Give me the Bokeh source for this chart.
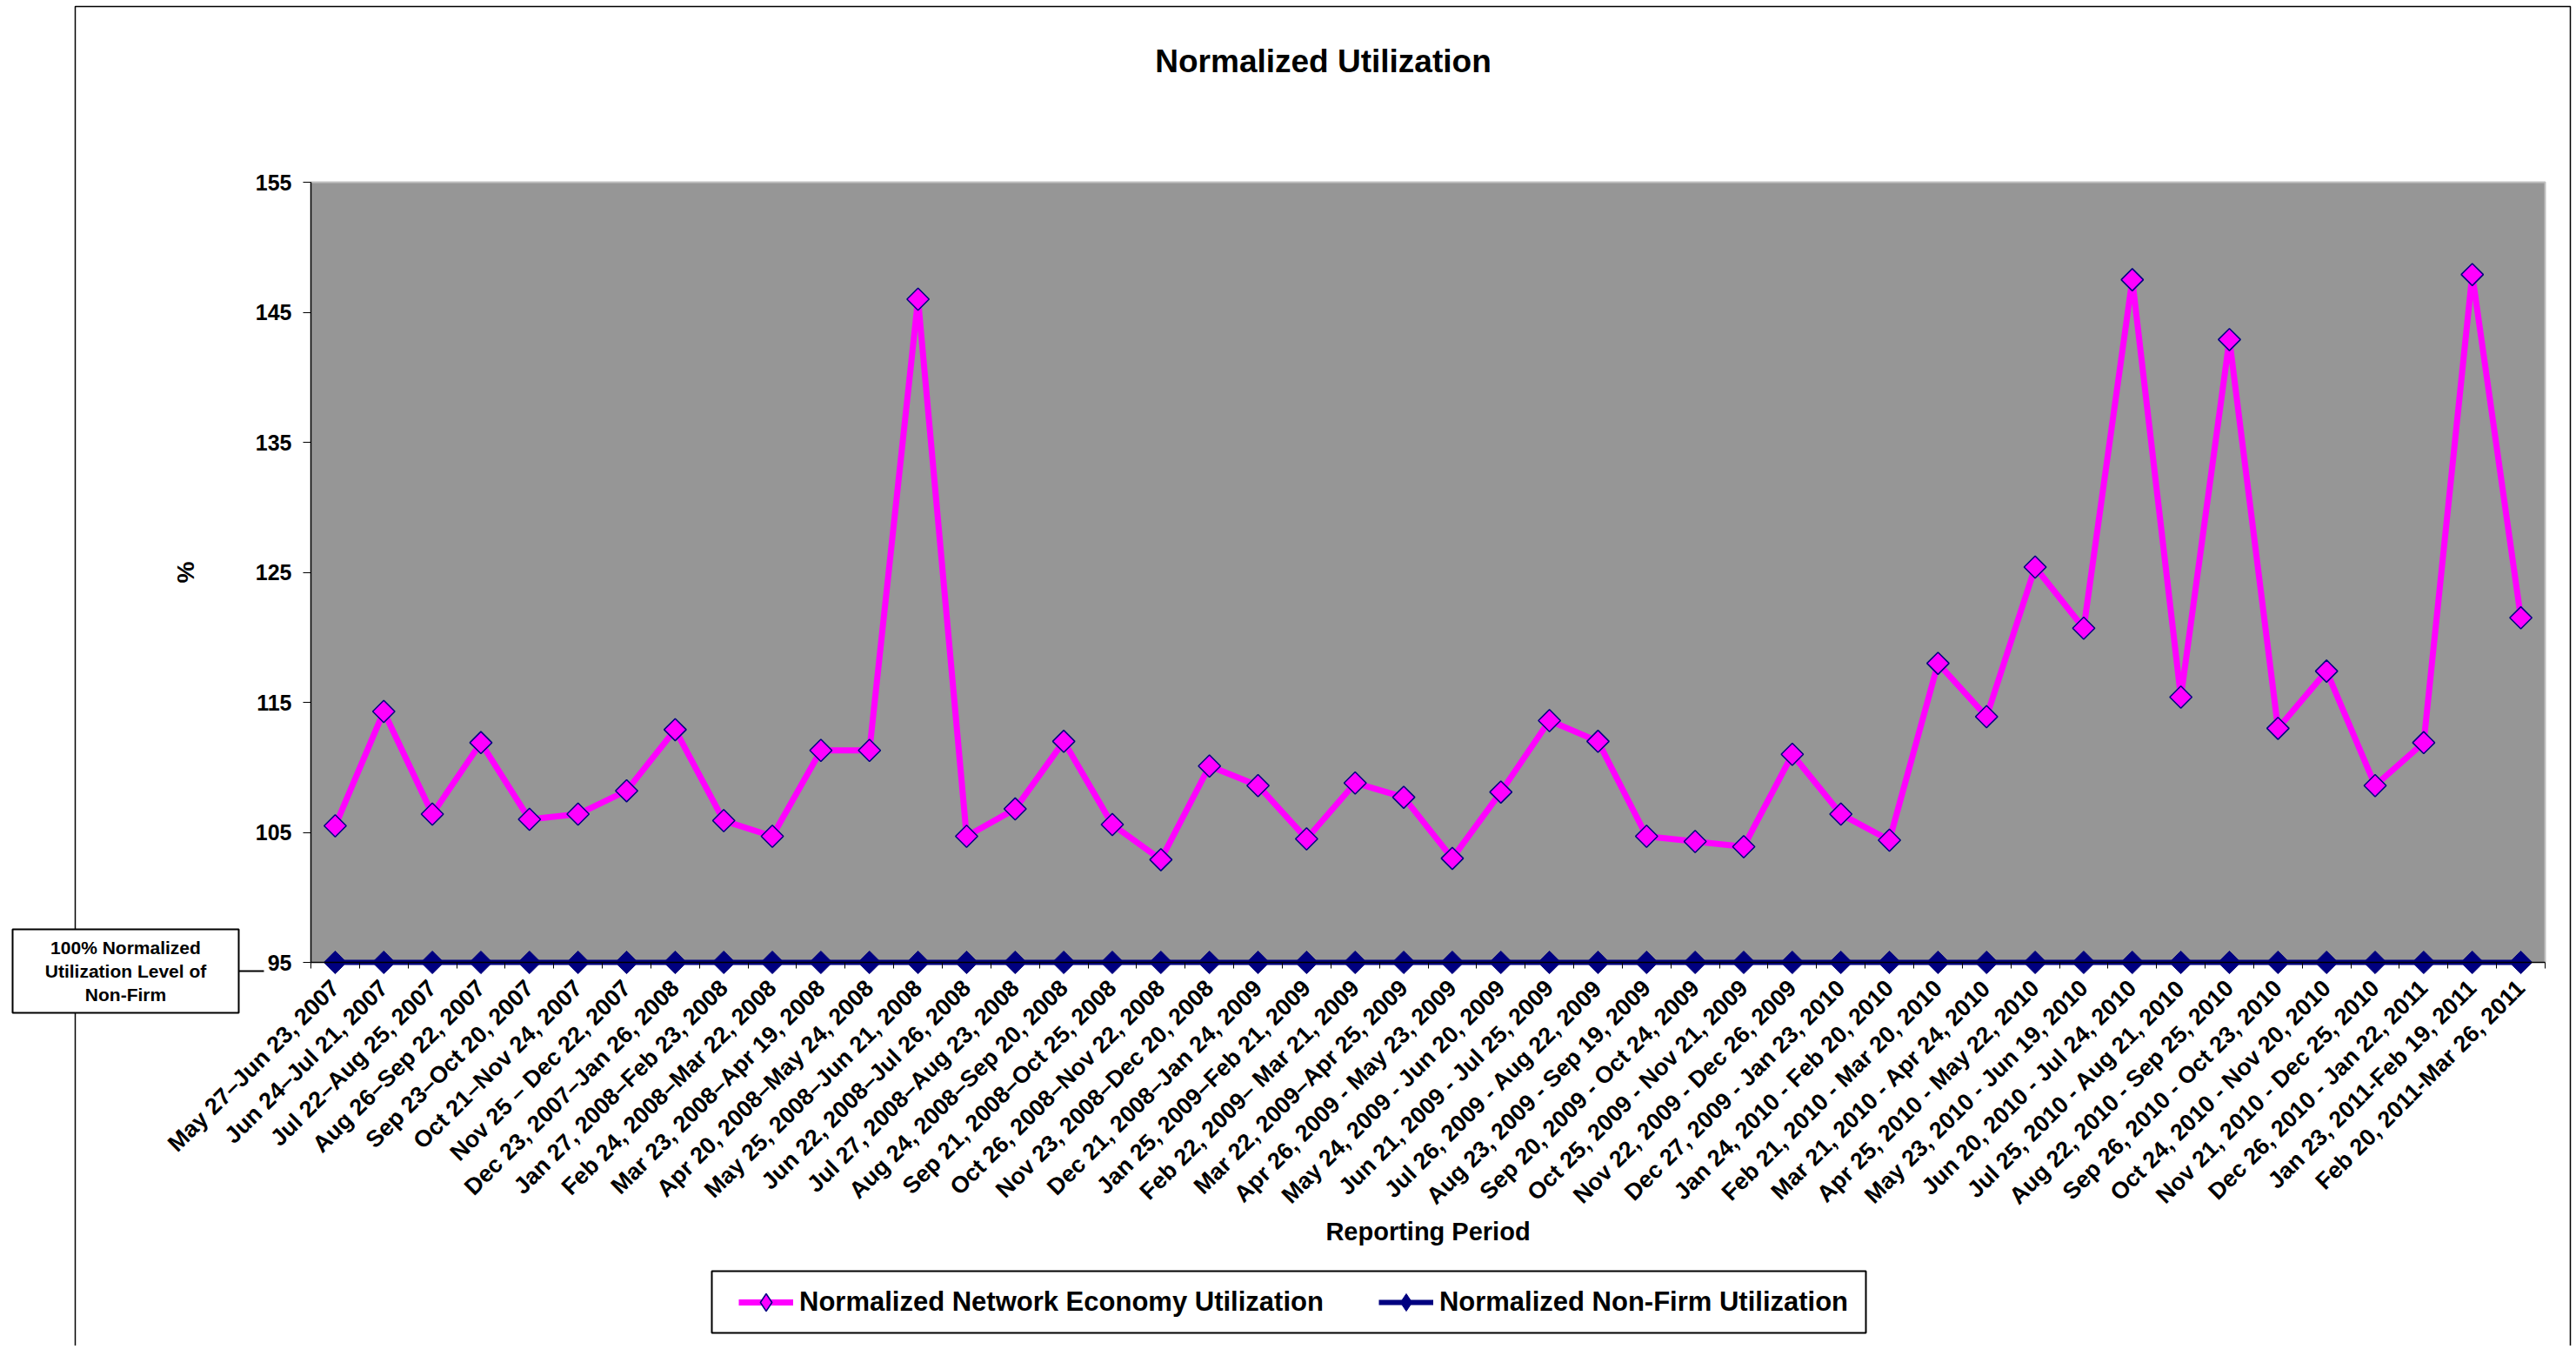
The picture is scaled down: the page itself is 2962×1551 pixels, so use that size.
import math
from bokeh.plotting import figure
from bokeh.models import (Range1d, FixedTicker, ColumnDataSource, Legend, LegendItem)
from bokeh.core.properties import value
from bokeh.embed import file_html
from bokeh.resources import INLINE

# ---------------- data ----------------
categories = [
    "May 27\u2013Jun 23, 2007", "Jun 24\u2013Jul 21, 2007", "Jul 22\u2013Aug 25, 2007",
    "Aug 26\u2013Sep 22, 2007", "Sep 23\u2013Oct 20, 2007", "Oct 21\u2013Nov 24, 2007",
    "Nov 25 \u2013 Dec 22, 2007", "Dec 23, 2007\u2013Jan 26, 2008", "Jan 27, 2008\u2013Feb 23, 2008",
    "Feb 24, 2008\u2013Mar 22, 2008", "Mar 23, 2008\u2013Apr 19, 2008", "Apr 20, 2008\u2013May 24, 2008",
    "May 25, 2008\u2013Jun 21, 2008", "Jun 22, 2008\u2013Jul 26, 2008", "Jul 27, 2008\u2013Aug 23, 2008",
    "Aug 24, 2008\u2013Sep 20, 2008", "Sep 21, 2008\u2013Oct 25, 2008", "Oct 26, 2008\u2013Nov 22, 2008",
    "Nov 23, 2008\u2013Dec 20, 2008", "Dec 21, 2008\u2013Jan 24, 2009", "Jan 25, 2009\u2013Feb 21, 2009",
    "Feb 22, 2009\u2013 Mar 21, 2009", "Mar 22, 2009\u2013Apr 25, 2009", "Apr 26, 2009 - May 23, 2009",
    "May 24, 2009 - Jun 20, 2009", "Jun 21, 2009 - Jul 25, 2009", "Jul 26, 2009 - Aug 22, 2009",
    "Aug 23, 2009 - Sep 19, 2009", "Sep 20, 2009 - Oct 24, 2009", "Oct 25, 2009 - Nov 21, 2009",
    "Nov 22, 2009 - Dec 26, 2009", "Dec 27, 2009 - Jan 23, 2010", "Jan 24, 2010 - Feb 20, 2010",
    "Feb 21, 2010 - Mar 20, 2010", "Mar 21, 2010 - Apr 24, 2010", "Apr 25, 2010 - May 22, 2010",
    "May 23, 2010 - Jun 19, 2010", "Jun 20, 2010 - Jul 24, 2010", "Jul 25, 2010 - Aug 21, 2010",
    "Aug 22, 2010 - Sep 25, 2010", "Sep 26, 2010 - Oct 23, 2010", "Oct 24, 2010 - Nov 20, 2010",
    "Nov 21, 2010 - Dec 25, 2010", "Dec 26, 2010 - Jan 22, 2011", "Jan 23, 2011-Feb 19, 2011",
    "Feb 20, 2011-Mar 26, 2011",
]

network_economy = [
    105.5, 114.3, 106.4, 111.9, 106.0, 106.4, 108.2, 112.9, 105.9, 104.7, 111.3, 111.3,
    146.0, 104.7, 106.8, 112.0, 105.6, 102.9, 110.1, 108.6, 104.5, 108.8, 107.7,
    103.0, 108.1, 113.6, 112.0, 104.7, 104.3, 103.9, 111.0, 106.4, 104.4, 118.0, 113.9,
    125.4, 120.7, 147.5, 115.4, 142.9, 113.0, 117.4, 108.6, 111.9, 147.9, 121.5,
]

non_firm = [
    95, 95, 95, 95, 95, 95, 95, 95, 95, 95, 95, 95,
    95, 95, 95, 95, 95, 95, 95, 95, 95, 95, 95,
    95, 95, 95, 95, 95, 95, 95, 95, 95, 95, 95, 95,
    95, 95, 95, 95, 95, 95, 95, 95, 95, 95, 95,
]

y_ticks = [95, 105, 115, 125, 135, 145, 155]

series_names = ["Normalized Network Economy Utilization", "Normalized Non-Firm Utilization"]
title_text = "Normalized Utilization"
x_title = "Reporting Period"
y_title = "%"
note_text = "100% Normalized\nUtilization Level of\nNon-Firm"

# ---------------- layout (canvas pixels) ----------------
W, H = 2958, 1547
PL, PR, PT, PB = 357, 2926, 209, 1106      # plot-area edges on the canvas
FONT = "Liberation Sans"
MAGENTA = "#FF00FF"
NAVY = "#000080"

x_pos = list(range(1, len(categories) + 1))
x_lo, x_hi = 0.5, len(categories) + 0.5
y_lo, y_hi = y_ticks[0], y_ticks[-1]


def dx(px):
    return x_lo + (px - PL) * (x_hi - x_lo) / (PR - PL)


def dy(py):
    return y_lo + (PB - py) * (y_hi - y_lo) / (PB - PT)


src = ColumnDataSource(data=dict(x=x_pos, ne=network_economy, nf=non_firm, cat=categories))

# the frame covers the whole canvas; axes are pinned to the plot-area edges
p = figure(width=W, height=H, x_range=Range1d(dx(0), dx(W)), y_range=Range1d(dy(H), dy(0)),
           output_backend="svg", toolbar_location=None, min_border=0,
           background_fill_color="white", border_fill_color="white",
           outline_line_color=None)
p.xgrid.grid_line_color = None
p.ygrid.grid_line_color = None

# plot area background and its light edges
p.quad(left=[x_lo], right=[x_hi], bottom=[y_lo], top=[y_hi],
       fill_color="#969696", line_color=None, level="underlay")
p.multi_line(xs=[[x_lo, x_hi, x_hi]], ys=[[y_hi, y_hi, y_lo]],
             line_color="#c0c0c0", line_width=2, level="underlay")

# x axis
xa = p.xaxis[0]
xa.fixed_location = y_lo
xa.bounds = (x_lo, x_hi)
xa.ticker = FixedTicker(ticks=x_pos, minor_ticks=[i + 0.5 for i in range(len(categories) + 1)])
xa.major_label_overrides = {i: c for i, c in zip(x_pos, categories)}
xa.major_label_orientation = math.pi / 4
xa.major_tick_line_color = None
xa.major_tick_out = 0
xa.major_tick_in = 0
xa.minor_tick_line_color = "black"
xa.minor_tick_out = 7
xa.minor_tick_in = 0
xa.major_label_standoff = 18
xa.major_label_text_font = FONT
xa.major_label_text_font_style = "bold"
xa.major_label_text_font_size = "27px"
xa.major_label_text_color = "black"
xa.axis_line_color = "black"
xa.axis_line_width = 1.5
xa.axis_label = x_title
xa.axis_label_standoff = -4
xa.axis_label_text_font = FONT
xa.axis_label_text_font_style = "bold"
xa.axis_label_text_font_size = "29px"
xa.axis_label_text_color = "black"

# y axis
ya = p.yaxis[0]
ya.fixed_location = x_lo
ya.bounds = (y_lo, y_hi)
ya.ticker = FixedTicker(ticks=y_ticks, minor_ticks=[])
ya.major_tick_out = 9
ya.major_tick_in = 0
ya.major_tick_line_color = "black"
ya.minor_tick_line_color = None
ya.major_label_standoff = 13
ya.major_label_text_font = FONT
ya.major_label_text_font_style = "bold"
ya.major_label_text_font_size = "25px"
ya.major_label_text_color = "black"
ya.axis_line_color = "black"
ya.axis_line_width = 1.5
ya.axis_label = y_title
ya.axis_label_standoff = 62
ya.axis_label_text_font = FONT
ya.axis_label_text_font_style = "bold"
ya.axis_label_text_font_size = "28px"
ya.axis_label_text_color = "black"

# outer chart-area border (left, top, right edges)
p.multi_line(xs=[[dx(86), dx(86), dx(2955), dx(2955)]],
             ys=[[dy(H + 60), dy(7), dy(7), dy(H + 60)]],
             line_color="black", line_width=1.5)

# series
r_ne_line = p.line("x", "ne", source=src, line_color=MAGENTA, line_width=7)
r_ne_pts = p.scatter("x", "ne", source=src, marker="square", angle=math.pi / 4, size=18,
                     fill_color=MAGENTA, line_color=NAVY, line_width=1.5)
r_nf_line = p.line("x", "nf", source=src, line_color=NAVY, line_width=6)
r_nf_pts = p.scatter("x", "nf", source=src, marker="square", angle=math.pi / 4, size=18.5,
                     fill_color=NAVY, line_color=NAVY, line_width=1)
# diamond swatches used only by the legend
r_ne_key = p.scatter("x", "ne", source=src, marker="diamond", size=20,
                     fill_color=MAGENTA, line_color=NAVY, line_width=1.5, visible=False)
r_nf_key = p.scatter("x", "nf", source=src, marker="diamond", size=20,
                     fill_color=NAVY, line_color=NAVY, line_width=1, visible=False)

# chart title
p.text(x=[dx(1521)], y=[dy(70)], text=[title_text], text_align="center",
       text_baseline="middle", text_font=value(FONT), text_font_style="bold",
       text_font_size="37px", text_color="black")

# note box with connector
p.quad(left=[dx(14)], right=[dx(274)], top=[dy(1068)], bottom=[dy(1164)],
       fill_color="white", line_color="black", line_width=2)
p.segment(x0=[dx(274)], y0=[dy(1116)], x1=[dx(303)], y1=[dy(1116)],
          line_color="black", line_width=2)
p.text(x=[dx(144)], y=[dy(1116)], text=[note_text], text_align="center",
       text_baseline="middle", text_font=value(FONT), text_font_style="bold",
       text_font_size="21px", text_line_height=1.17, text_color="black")

# legend frame
p.quad(left=[dx(818)], right=[dx(2145)], top=[dy(1461)], bottom=[dy(1532)],
       fill_color="white", line_color="black", line_width=2)

# legend (location = left / bottom offset inside the canvas-wide frame)
legend = Legend(items=[LegendItem(label=series_names[0], renderers=[r_ne_line, r_ne_key]),
                       LegendItem(label=series_names[1], renderers=[r_nf_line, r_nf_key])],
                orientation="horizontal", location=(849, H - 1522),
                label_text_font=FONT, label_text_font_style="bold", label_text_font_size="31px",
                label_text_color="black", glyph_width=63, glyph_height=50, label_height=37,
                label_standoff=7, spacing=63, padding=0, margin=0,
                border_line_color=None, background_fill_alpha=0)
p.add_layout(legend)

open("out.html", "w").write(file_html(p, INLINE))
